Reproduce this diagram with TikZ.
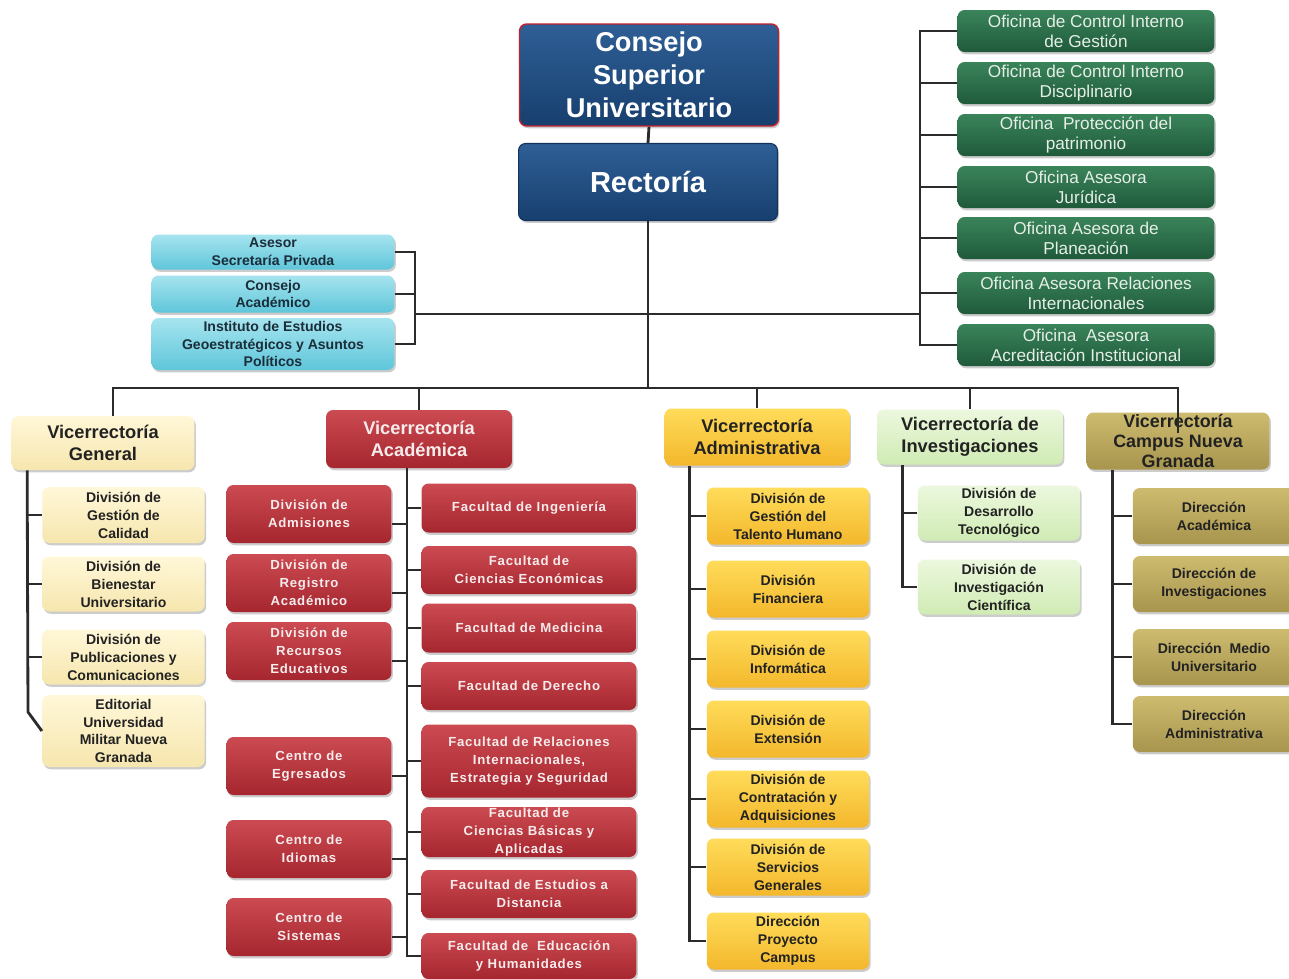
\documentclass[tikz,border=0pt]{standalone}
\usepackage{fontspec}
\setmainfont{Liberation Sans}
\newfontfamily\spacedfont[LetterSpace=6]{Liberation Sans}
\usetikzlibrary{shadows}
\definecolor{blueT}{HTML}{2F5F96}
\definecolor{blueB}{HTML}{173F6E}
\definecolor{blueD}{HTML}{12345C}
\definecolor{redLine}{HTML}{C4202E}
\definecolor{cyanT}{HTML}{A6E4EF}
\definecolor{cyanB}{HTML}{5FC6DA}
\definecolor{cyanTx}{HTML}{1C2D3A}
\definecolor{grnT}{HTML}{3A845A}
\definecolor{grnB}{HTML}{1F5A3B}
\definecolor{grnTx}{HTML}{E6EEE8}
\definecolor{creT}{HTML}{FFF7D8}
\definecolor{creB}{HTML}{F6E6AE}
\definecolor{redT}{HTML}{CC4B52}
\definecolor{redB}{HTML}{A6262F}
\definecolor{redTx}{HTML}{F6ECEC}
\definecolor{oraT}{HTML}{FFDC5A}
\definecolor{oraB}{HTML}{F3B72C}
\definecolor{lgrT}{HTML}{ECF8DE}
\definecolor{lgrB}{HTML}{D0EBB4}
\definecolor{oliT}{HTML}{CDBB6F}
\definecolor{oliB}{HTML}{A8954E}
\definecolor{darkTx}{HTML}{222222}
\definecolor{lineC}{HTML}{2B2B2B}
\tikzset{
  box/.style={rounded corners=4pt, inner sep=0pt, align=center,
    drop shadow={opacity=0.4, shadow xshift=0.8pt, shadow yshift=-1.3pt}},
  topbox/.style={box, top color=blueT, bottom color=blueB, text=white,
    minimum width=5.18cm, font=\bfseries\fontsize{15.5}{18.7}\selectfont},
  cyanbox/.style={box, top color=cyanT, bottom color=cyanB, text=cyanTx,
    minimum width=4.86cm, font=\bfseries\fontsize{8}{10}\selectfont},
  grnbox/.style={box, top color=grnT, bottom color=grnB, text=grnTx,
    minimum width=5.14cm, minimum height=0.84cm, font=\fontsize{9.8}{11.3}\selectfont},
  vicebox/.style={box, text=darkTx, minimum width=3.7cm,
    font=\bfseries\fontsize{10.4}{12.5}\selectfont},
  child/.style={box, text=darkTx, minimum width=3.25cm,
    font=\bfseries\fontsize{8}{10.2}\selectfont},
  cre/.style={top color=creT, bottom color=creB},
  redf/.style={top color=redT, bottom color=redB, text=redTx},
  ora/.style={top color=oraT, bottom color=oraB},
  lgr/.style={top color=lgrT, bottom color=lgrB},
  oli/.style={top color=oliT, bottom color=oliB},
  redchild/.style={box, redf, font=\spacedfont\bfseries\fontsize{7.5}{10.2}\selectfont},
  conn/.style={draw=lineC, line width=1.6pt}
}
\begin{document}
\begin{tikzpicture}[x=0.02cm,y=-0.02cm]
\fill[white] (0,0) rectangle (1289,978);
\useasboundingbox (0,0) rectangle (1289,978);
% top
\node[topbox, minimum height=2.04cm, draw=redLine, line width=0.8pt] (csu) at (649,75) {Consejo\\Superior\\Universitario};
\node[topbox, minimum height=1.54cm, draw=blueD, line width=0.6pt, font=\bfseries\fontsize{16.5}{19}\selectfont] (rect) at (648,182) {Rectoría};
% cyan advisers
\node[cyanbox, minimum height=0.70cm] (ase) at (273,252) {Asesor\\Secretaría Privada};
\node[cyanbox, minimum height=0.74cm] (cac) at (273,294) {Consejo\\Académico};
\node[cyanbox, minimum height=1.04cm] (ins) at (273,344) {Instituto de Estudios\\Geoestratégicos y Asuntos\\Políticos};
% green offices
\node[grnbox] (o1) at (1086,31) {Oficina de Control Interno\\de Gestión};
\node[grnbox] (o2) at (1086,83) {Oficina de Control Interno\\Disciplinario};
\node[grnbox] (o3) at (1086,135) {Oficina~ Protección del\\patrimonio};
\node[grnbox] (o4) at (1086,187) {Oficina Asesora\\Jurídica};
\node[grnbox] (o5) at (1086,238) {Oficina Asesora de\\Planeación};
\node[grnbox] (o6) at (1086,293) {Oficina Asesora Relaciones\\Internacionales};
\node[grnbox] (o7) at (1086,345) {Oficina~ Asesora\\Acreditación Institucional};
% vicerrectorias
\node[vicebox, cre, minimum width=3.66cm, minimum height=1.08cm] (vg) at (103,443) {Vicerrectoría\\General};
\node[vicebox, redf, minimum width=3.72cm, minimum height=1.16cm, text=redTx] (vac) at (419,439) {Vicerrectoría\\Académica};
\node[vicebox, ora, minimum height=1.14cm] (vad) at (757,437) {Vicerrectoría\\Administrativa};
\node[vicebox, lgr, minimum width=3.72cm, minimum height=1.1cm] (vi) at (970,437) {Vicerrectoría de\\Investigaciones};
\node[vicebox, oli, minimum width=3.66cm, minimum height=1.14cm, font=\bfseries\fontsize{10.2}{11.6}\selectfont] (vcn) at (1178,441) {Vicerrectoría\\Campus Nueva\\Granada};
% general children
\node[child, cre, minimum height=1.12cm] (g1) at (123.5,515) {División de\\Gestión de\\Calidad};
\node[child, cre, minimum height=1.10cm] (g2) at (123.5,584) {División de\\Bienestar\\Universitario};
\node[child, cre, minimum height=1.10cm] (g3) at (123.5,657) {División de\\Publicaciones y\\Comunicaciones};
\node[child, cre, minimum height=1.44cm] (g4) at (123.5,731) {Editorial\\Universidad\\Militar Nueva\\Granada};
% academica left
\node[redchild, minimum width=3.3cm, minimum height=1.16cm] (a1) at (309,514) {División de\\Admisiones};
\node[redchild, minimum width=3.3cm, minimum height=1.16cm] (a2) at (309,583) {División de\\Registro\\Académico};
\node[redchild, minimum width=3.3cm, minimum height=1.16cm] (a3) at (309,651) {División de\\Recursos\\Educativos};
\node[redchild, minimum width=3.3cm, minimum height=1.16cm] (a4) at (309,766) {Centro de\\Egresados};
\node[redchild, minimum width=3.3cm, minimum height=1.16cm] (a5) at (309,849) {Centro de\\Idiomas};
\node[redchild, minimum width=3.3cm, minimum height=1.16cm] (a6) at (309,927) {Centro de\\Sistemas};
% academica right
\node[redchild, minimum width=4.3cm, minimum height=0.98cm] (f1) at (529,508) {Facultad de Ingeniería};
\node[redchild, minimum width=4.3cm, minimum height=0.96cm] (f2) at (529,570) {Facultad de\\Ciencias Económicas};
\node[redchild, minimum width=4.3cm, minimum height=0.98cm] (f3) at (529,628) {Facultad de Medicina};
\node[redchild, minimum width=4.3cm, minimum height=0.96cm] (f4) at (529,686) {Facultad de Derecho};
\node[redchild, minimum width=4.3cm, minimum height=1.46cm] (f5) at (529,761) {Facultad de Relaciones\\Internacionales,\\Estrategia y Seguridad};
\node[redchild, minimum width=4.3cm, minimum height=1.0cm] (f6) at (529,832) {Facultad de\\Ciencias Básicas y\\Aplicadas};
\node[redchild, minimum width=4.3cm, minimum height=0.96cm] (f7) at (529,894) {Facultad de Estudios a\\Distancia};
\node[redchild, minimum width=4.3cm, minimum height=0.92cm] (f8) at (529,956) {Facultad de~ Educación\\y Humanidades};
% administrativa
\node[child, ora, minimum height=1.14cm] (d1) at (788,516) {División de\\Gestión del\\Talento Humano};
\node[child, ora, minimum height=1.14cm] (d2) at (788,589) {División\\Financiera};
\node[child, ora, minimum height=1.14cm] (d3) at (788,659) {División de\\Informática};
\node[child, ora, minimum height=1.14cm] (d4) at (788,729) {División de\\Extensión};
\node[child, ora, minimum height=1.14cm] (d5) at (788,799) {División de\\Contratación y\\Adquisiciones};
\node[child, ora, minimum height=1.14cm] (d6) at (788,867) {División de\\Servicios\\Generales};
\node[child, ora, minimum height=1.14cm] (d7) at (788,941) {Dirección\\Proyecto\\Campus};
% investigaciones
\node[child, lgr, minimum height=1.1cm] (i1) at (999,513) {División de\\Desarrollo\\Tecnológico};
\node[child, lgr, minimum height=1.1cm] (i2) at (999,587) {División de\\Investigación\\Científica};
% campus
\node[child, oli, minimum height=1.12cm] (c1) at (1214,516) {Dirección\\Académica};
\node[child, oli, minimum height=1.12cm] (c2) at (1214,584) {Dirección de\\Investigaciones};
\node[child, oli, minimum height=1.12cm] (c3) at (1214,657) {Dirección~ Medio\\Universitario};
\node[child, oli, minimum height=1.12cm] (c4) at (1214,724) {Dirección\\Administrativa};
% ---------- connectors
\coordinate (bus) at (649,388);
\coordinate (lb) at (415,314);
\coordinate (rb) at (920,314);
\draw[conn] (csu.south) -- (rect.north);
\draw[conn] (rect.south) -- (rect.south |- bus);
\draw[conn] ([xshift=0.2cm]vg.north) |- (bus) -| ([yshift=-0.42cm]vcn.north);
\draw[conn] (vac.north) -- (vac.north |- bus);
\draw[conn] (vad.north) -- (vad.north |- bus);
\draw[conn] (vi.north) -- (vi.north |- bus);
% advisers bracket
\draw[conn] (ase.east) -| (lb);
\draw[conn] (ins.east) -| (lb);
\draw[conn] (cac.east) -- (cac.east -| lb);
\draw[conn] (lb) -- (rb);
% offices bracket
\draw[conn] (o1.west) -| (rb);
\draw[conn] (o7.west) -| (rb);
\foreach \n in {o2,o3,o4,o5,o6} \draw[conn] (\n.west) -- (\n.west -| rb);
% general
\coordinate (vgt) at ([xshift=0.32cm]vg.south west);
\coordinate (vgb) at (28,712);
\draw[conn] (vgt) -- (vgb) -- (g4.west);
\foreach \n in {g1,g2,g3} \draw[conn] (\n.west) -- (\n.west -| vgt);
% academica
\coordinate (vat) at ([xshift=-0.24cm]vac.south);
\draw[conn] (vat) -- (vat |- f8.west) -- (f8.west);
\foreach \n in {a1,a2,a3,a4,a5,a6} \draw[conn] ([yshift=-0.2cm]\n.east) -- ([yshift=-0.2cm]\n.east -| vat);
\foreach \n in {f1,f2,f3,f4,f5,f6,f7} \draw[conn] (\n.west) -- (\n.west -| vat);
% administrativa
\coordinate (vdt) at ([xshift=0.5cm]vad.south west);
\draw[conn] (vdt) |- (d7.west);
\foreach \n in {d1,d2,d3,d4,d5,d6} \draw[conn] (\n.west) -- (\n.west -| vdt);
% investigaciones
\coordinate (vit) at ([xshift=0.52cm]vi.south west);
\draw[conn] (vit) |- (i2.west);
\draw[conn] (i1.west) -- (i1.west -| vit);
% campus
\coordinate (vct) at ([xshift=0.52cm]vcn.south west);
\draw[conn] (vct) |- (c4.west);
\foreach \n in {c1,c2,c3} \draw[conn] (\n.west) -- (\n.west -| vct);
\end{tikzpicture}
\end{document}
